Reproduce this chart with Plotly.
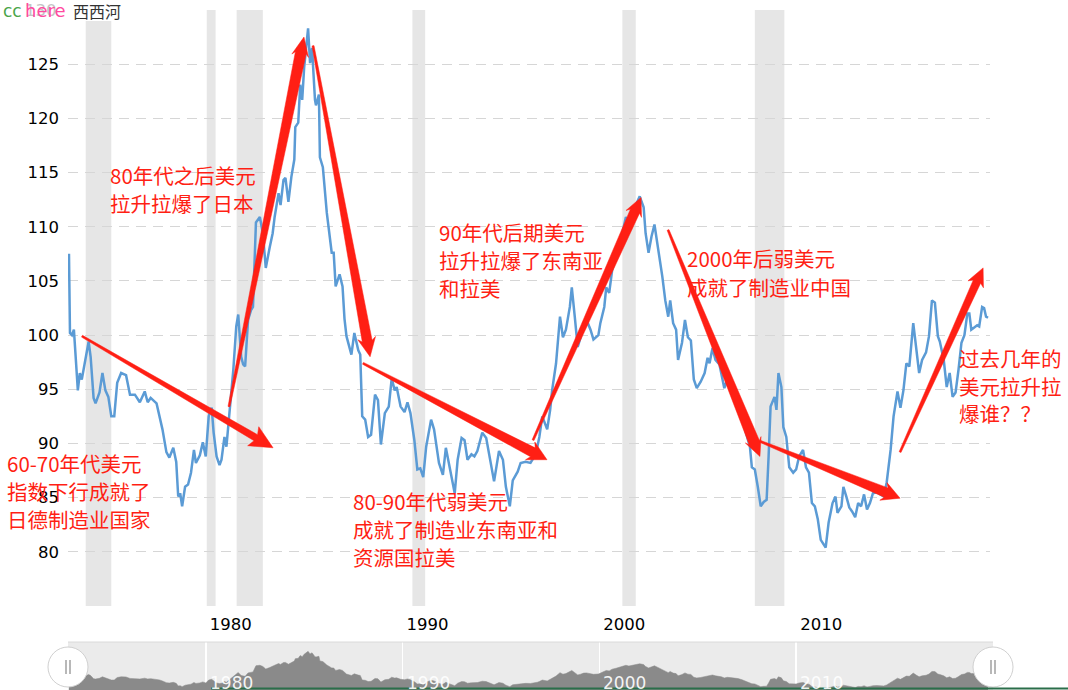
import math
import plotly.graph_objects as go

# ---------------- data ----------------
year_pts = [
    1973.05, 1973.10, 1973.20, 1973.30, 1973.50, 1973.60, 1973.70, 1973.90, 1974.05, 1974.15,
    1974.30, 1974.40, 1974.60, 1974.75, 1974.90, 1975.05, 1975.20, 1975.35, 1975.50, 1975.70,
    1975.95, 1976.15, 1976.40, 1976.65, 1976.90, 1977.05, 1977.20, 1977.50, 1977.65, 1977.80,
    1978.00, 1978.15, 1978.35, 1978.50, 1978.60, 1978.70, 1978.80, 1978.95, 1979.10, 1979.25,
    1979.40, 1979.50, 1979.70, 1979.85, 1980.00, 1980.15, 1980.30, 1980.40, 1980.55, 1980.70,
    1980.80, 1980.95, 1981.05, 1981.20, 1981.40, 1981.55, 1981.65, 1981.80, 1981.90, 1982.00,
    1982.15, 1982.30, 1982.40, 1982.55, 1982.75, 1982.90, 1983.05, 1983.25, 1983.40, 1983.50,
    1983.70, 1983.80, 1983.95, 1984.05, 1984.20, 1984.35, 1984.50, 1984.55, 1984.70, 1984.80,
    1984.90, 1985.00, 1985.10, 1985.20, 1985.30, 1985.40, 1985.55, 1985.60, 1985.75, 1985.80,
    1985.95, 1986.15, 1986.40, 1986.50, 1986.60, 1986.80, 1986.95, 1987.05, 1987.15, 1987.40,
    1987.55, 1987.75, 1987.85, 1987.95, 1988.10, 1988.25, 1988.40, 1988.60, 1988.75, 1988.90,
    1989.10, 1989.30, 1989.45, 1989.60, 1989.70, 1989.90, 1990.10, 1990.25, 1990.40, 1990.60,
    1990.75, 1990.90, 1991.05, 1991.20, 1991.45, 1991.60, 1991.85, 1992.05, 1992.20, 1992.40,
    1992.65, 1992.80, 1993.00, 1993.15, 1993.30, 1993.50, 1993.65, 1993.80, 1994.05, 1994.25,
    1994.40, 1994.65, 1994.90, 1995.10, 1995.25, 1995.45, 1995.60, 1995.85, 1996.00, 1996.25,
    1996.50, 1996.70, 1996.85, 1996.95, 1997.10, 1997.35, 1997.50, 1997.60, 1997.80, 1998.00,
    1998.15, 1998.30, 1998.50, 1998.60, 1998.75, 1998.90, 1999.05, 1999.20, 1999.35, 1999.55,
    1999.70, 1999.95, 2000.05, 2000.25, 2000.35, 2000.50, 2000.65, 2000.85, 2001.00, 2001.20,
    2001.35, 2001.50, 2001.70, 2001.90, 2002.05, 2002.25, 2002.35, 2002.50, 2002.65, 2002.80,
    2002.95, 2003.05, 2003.20, 2003.35, 2003.50, 2003.60, 2003.75, 2003.90, 2004.00, 2004.20,
    2004.35, 2004.50, 2004.65, 2004.80, 2004.95, 2005.15, 2005.35, 2005.50, 2005.60, 2005.75,
    2005.90, 2006.10, 2006.20, 2006.35, 2006.50, 2006.75, 2006.90, 2007.05, 2007.25, 2007.40,
    2007.65, 2007.75, 2007.90, 2008.05, 2008.20, 2008.35, 2008.50, 2008.60, 2008.70, 2008.90,
    2009.00, 2009.10, 2009.25, 2009.35, 2009.50, 2009.65, 2009.85, 2010.00, 2010.15, 2010.35,
    2010.50, 2010.65, 2010.80, 2010.95, 2011.10, 2011.25, 2011.50, 2011.65, 2011.85, 2012.00,
    2012.10, 2012.30, 2012.40, 2012.55, 2012.70, 2012.85, 2013.00, 2013.15, 2013.30, 2013.45,
    2013.60, 2013.75, 2013.90, 2014.10, 2014.45, 2014.60, 2014.80, 2014.95, 2015.15, 2015.30,
    2015.45, 2015.60, 2015.75, 2015.95, 2016.10, 2016.25, 2016.40, 2016.60, 2016.75, 2016.90,
    2017.05, 2017.20, 2017.30, 2017.50, 2017.65, 2017.80, 2017.95, 2018.10, 2018.25, 2018.40,
    2018.55, 2018.70, 2018.80, 2018.90, 2019.05, 2019.20, 2019.30, 2019.45, 2019.55, 2019.65,
    2019.75,
]
dollar_idx = [
    107.5, 100.2, 100.0, 100.5, 94.9, 96.5, 95.9, 97.7, 99.4, 98.0,
    94.2, 93.7, 94.7, 96.5, 94.9, 94.3, 92.5, 92.5, 95.6, 96.5,
    96.3, 94.5, 94.5, 93.8, 94.8, 93.8, 94.2, 93.7, 92.6, 91.3,
    89.2, 88.7, 89.6, 88.3, 85.1, 85.4, 84.2, 86.0, 86.2, 87.3,
    89.4, 88.2, 88.9, 90.1, 88.8, 92.5, 93.3, 91.0, 88.8, 88.0,
    88.5, 90.6, 89.7, 92.8, 96.8, 100.8, 101.9, 98.0, 97.3, 97.1,
    101.4, 102.3, 102.6, 110.4, 110.9, 109.4, 106.2, 108.1, 109.4, 110.9,
    113.1, 112.0, 114.3, 114.5, 112.3, 114.6, 116.2, 119.2, 119.6, 123.1,
    121.7, 124.7, 126.3, 128.3, 125.1, 126.5, 121.7, 121.2, 122.2, 116.4,
    115.5, 111.3, 107.6, 107.6, 104.5, 105.6, 104.5, 101.5, 99.9, 98.2,
    100.2, 98.6, 98.2, 92.5, 92.2, 90.6, 90.8, 94.5, 94.0, 89.9,
    92.8, 93.4, 96.0, 94.9, 95.2, 93.4, 92.9, 93.8, 92.8, 90.3,
    87.6, 87.7, 86.9, 89.7, 92.2, 91.3, 88.2, 87.1, 89.6, 87.6,
    85.4, 88.5, 90.5, 90.3, 88.5, 89.0, 88.8, 89.3, 91.0, 90.5,
    89.1, 86.5, 89.3, 88.5, 86.0, 84.2, 86.6, 87.4, 88.2, 88.3,
    88.2, 88.8, 89.7, 90.6, 92.5, 91.3, 93.1, 94.9, 97.4, 101.7,
    99.8, 100.5, 102.6, 104.4, 101.7, 98.9, 99.8, 101.1, 101.4, 100.5,
    99.6, 100.0, 101.1, 102.6, 104.4, 103.9, 106.0, 107.2, 108.1, 109.7,
    110.9, 110.0, 111.3, 112.2, 112.8, 111.8, 109.4, 107.6, 109.1, 110.2,
    108.5, 107.2, 105.4, 103.2, 101.7, 103.2, 101.1, 100.5, 97.7, 99.3,
    101.4, 99.8, 99.5, 95.9, 95.1, 95.7, 96.5, 97.9, 97.4, 98.8,
    97.7, 97.3, 96.5, 95.1, 95.9, 95.2, 94.9, 94.3, 92.8, 91.3,
    89.7, 87.8, 87.6, 86.0, 84.2, 84.6, 84.8, 88.8, 93.4, 94.3,
    93.1, 96.5, 95.2, 91.5, 90.6, 87.8, 87.3, 87.6, 88.8, 89.4,
    87.8, 87.3, 84.5, 84.2, 83.0, 81.1, 80.4, 82.7, 84.5, 85.1,
    83.6, 84.2, 86.0, 85.1, 84.1, 83.7, 83.2, 84.5, 84.2, 85.3,
    83.9, 84.5, 85.4, 85.5, 85.1, 86.4, 89.4, 92.5, 94.8, 93.3,
    94.9, 97.4, 97.1, 101.1, 98.6, 96.5, 97.7, 98.4, 99.9, 103.2,
    103.0, 99.9, 99.4, 97.7, 95.2, 96.5, 94.3, 94.7, 96.8, 99.3,
    100.0, 102.0, 102.0, 100.5, 100.7, 100.9, 100.8, 102.6, 102.5, 101.7,
    101.6,
]

recession_start = [1973.90, 1980.05, 1981.57, 1990.50, 2001.17, 2007.90]
recession_end = [1975.20, 1980.50, 1982.90, 1991.15, 2001.85, 2009.40]

y_ticks = [75, 80, 85, 90, 95, 100, 105, 110, 115, 120, 125, 130]
y_labels = ["", "80", "85", "90", "95", "100", "105", "110", "115", "120", "125", ""]
x_ticks = [1980, 1990, 2000, 2010]
x_labels = ["1980", "1990", "2000", "2010"]

# hand-drawn red arrows (start / tip in chart units)
arrow_from = [(1973.71, 99.9), (1981.18, 93.4), (1985.45, 126.7), (1987.99, 97.4),
              (1996.63, 90.3), (2003.49, 109.7), (2008.16, 90.2), (2015.28, 89.2)]
arrow_to = [(1983.42, 89.6), (1984.99, 127.5), (1988.35, 98.0), (1997.34, 88.5),
            (2002.12, 112.7), (2008.16, 88.8), (2015.28, 84.95), (2019.50, 106.2)]

note_lines = [
    ["60-70年代美元", "指数下行成就了", "日德制造业国家"],
    ["80年代之后美元", "拉升拉爆了日本"],
    ["90年代后期美元", "拉升拉爆了东南亚", "和拉美"],
    ["2000年后弱美元", "成就了制造业中国"],
    ["80-90年代弱美元", "成就了制造业东南亚和", "资源国拉美"],
    ["过去几年的", "美元拉升拉", "爆谁？？"],
]

# ---------------- geometry ----------------
W, H = 1068, 690
ML, MR, MT, MB = 68, 78, 10, 0
X0, X1 = 1973.0, 2019.85
Y0, Y1 = 75, 130
PW = W - ML - MR
PH = H - MT - MB
MAIN_BOTTOM = 606   # px
SLIDER_TOP = 642    # px


def paper_x(px):
    return (px - ML) / PW


def paper_y(py):
    return (H - MB - py) / PH


def xpx(yr):
    return ML + (yr - X0) / (X1 - X0) * PW


def ypx(v):
    return MAIN_BOTTOM - (v - Y0) / (Y1 - Y0) * (MAIN_BOTTOM - MT)


RED = "#ff1f14"

fig = go.Figure()
fig.add_trace(go.Scatter(
    x=year_pts, y=dollar_idx, mode="lines",
    line=dict(color="#5b9bd5", width=2.5),
    hoverinfo="skip", showlegend=False, xaxis="x", yaxis="y"))
fig.add_trace(go.Scatter(
    x=year_pts, y=dollar_idx, mode="lines", fill="tozeroy",
    line=dict(color="#8a8a8a", width=0.5), fillcolor="#8a8a8a",
    hoverinfo="skip", showlegend=False, xaxis="x2", yaxis="y2"))

shapes = []
# recession bands
for a, b in zip(recession_start, recession_end):
    shapes.append(dict(type="rect", xref="x", yref="y", x0=a, x1=b, y0=Y0, y1=Y1,
                       fillcolor="#e6e6e6", line=dict(width=0), layer="below"))
# slider background
shapes.append(dict(type="rect", xref="paper", yref="paper", x0=0, x1=paper_x(993),
                   y0=0, y1=paper_y(SLIDER_TOP), fillcolor="#ebebeb",
                   line=dict(width=0), layer="below"))
shapes.append(dict(type="line", xref="paper", yref="paper", x0=0, x1=paper_x(993),
                   y0=paper_y(SLIDER_TOP), y1=paper_y(SLIDER_TOP),
                   line=dict(color="#dadada", width=1), layer="above"))


def arrow_path(p0, p1, tail_w, neck_w, head_w, head_len):
    x0, y0 = xpx(p0[0]), ypx(p0[1])
    x1, y1 = xpx(p1[0]), ypx(p1[1])
    dx, dy = x1 - x0, y1 - y0
    L = math.hypot(dx, dy)
    ux, uy = dx / L, dy / L
    nx, ny = -uy, ux
    bx, by = x1 - ux * head_len, y1 - uy * head_len
    pts = [
        (x0 + nx * tail_w / 2, y0 + ny * tail_w / 2),
        (bx + nx * neck_w / 2, by + ny * neck_w / 2),
        (bx - ux * 3 + nx * head_w / 2, by - uy * 3 + ny * head_w / 2),
        (x1, y1),
        (bx - ux * 3 - nx * head_w / 2, by - uy * 3 - ny * head_w / 2),
        (bx - nx * neck_w / 2, by - ny * neck_w / 2),
        (x0 - nx * tail_w / 2, y0 - ny * tail_w / 2),
    ]
    return "M " + " L ".join(f"{paper_x(px):.5f},{paper_y(py):.5f}" for px, py in pts) + " Z"


arrow_style = [(2, 7, 22, 20), (2, 11, 17, 16), (2, 10, 18, 16), (2, 10, 20, 16),
               (2, 10, 17, 15), (2, 11, 17, 15), (2, 10, 19, 15), (2, 8, 17, 15)]
for p0, p1, st in zip(arrow_from, arrow_to, arrow_style):
    shapes.append(dict(type="path", xref="paper", yref="paper",
                       path=arrow_path(p0, p1, *st), fillcolor=RED,
                       line=dict(color=RED, width=0.5), layer="above"))

# white patch behind the watermark
shapes.append(dict(type="rect", xref="paper", yref="paper", x0=paper_x(72), x1=paper_x(122),
                   y0=paper_y(21), y1=paper_y(0), fillcolor="white",
                   line=dict(width=0), layer="above"))

# slider handles
for cx in (68, 993):
    shapes.append(dict(type="circle", xref="paper", yref="paper",
                       x0=paper_x(cx - 20), x1=paper_x(cx + 20),
                       y0=paper_y(687), y1=paper_y(647), fillcolor="white",
                       line=dict(color="#d0d0d0", width=1), layer="above"))
    for dxp in (-2, 2):
        shapes.append(dict(type="line", xref="paper", yref="paper",
                           x0=paper_x(cx + dxp), x1=paper_x(cx + dxp),
                           y0=paper_y(674), y1=paper_y(660),
                           line=dict(color="#a0a0a0", width=1.5), layer="above"))
# bottom green border line
shapes.append(dict(type="line", xref="paper", yref="paper", x0=paper_x(211), x1=paper_x(1068),
                   y0=paper_y(688.5), y1=paper_y(688.5),
                   line=dict(color="#2b6e4a", width=2), layer="above"))

annotations = []
note_pos = [(5, [463, 491, 519]), (108, [175, 203]), (437, [232, 260, 288]),
            (685, [258, 287]), (351, [501, 529, 557]), (957, [358, 386, 413])]
for lines, (lx, ys) in zip(note_lines, note_pos):
    for txt, ly in zip(lines, ys):
        annotations.append(dict(text=txt, xref="paper", yref="paper", x=paper_x(lx), y=paper_y(ly),
                                xanchor="left", yanchor="middle", showarrow=False,
                                font=dict(family="Noto Sans CJK SC", size=20.5, color=RED)))

# watermark
annotations.append(dict(text="130", xref="paper", yref="paper", x=paper_x(59), y=paper_y(11),
                        xanchor="right", yanchor="middle", showarrow=False,
                        font=dict(family="DejaVu Sans", size=16.5, color="#c4c4c4")))
annotations.append(dict(text="cc", xref="paper", yref="paper", x=paper_x(1), y=paper_y(11),
                        xanchor="left", yanchor="middle", showarrow=False,
                        font=dict(family="DejaVu Sans", size=17, color="#4aa54a")))
annotations.append(dict(text="here", xref="paper", yref="paper", x=paper_x(23), y=paper_y(11),
                        xanchor="left", yanchor="middle", showarrow=False,
                        font=dict(family="DejaVu Sans", size=18, color="#ff4aa0")))
annotations.append(dict(text="西西河", xref="paper", yref="paper", x=paper_x(71), y=paper_y(11),
                        xanchor="left", yanchor="middle", showarrow=False,
                        font=dict(family="Noto Sans CJK SC", size=16, color="#333333")))

# slider year labels
for xv, lab in zip(x_ticks, x_labels):
    annotations.append(dict(text=lab, xref="x2", yref="paper", x=xv, y=paper_y(671),
                            xanchor="left", yanchor="top", xshift=2, showarrow=False,
                            font=dict(family="DejaVu Sans", size=17, color="rgba(255,255,255,0.92)")))

fig.update_layout(
    width=W, height=H, autosize=False,
    margin=dict(l=ML, r=MR, t=MT, b=MB, pad=0),
    paper_bgcolor="white", plot_bgcolor="rgba(0,0,0,0)",
    font=dict(family="DejaVu Sans", color="black"),
    showlegend=False, hovermode=False,
    xaxis=dict(domain=[0, 1], range=[X0, X1], anchor="y",
               tickmode="array", tickvals=x_ticks, ticktext=x_labels,
               showgrid=False, zeroline=False, showline=False, ticks="",
               tickfont=dict(size=16.5, color="black"),
               ticklabelshift=25, ticklabelstandoff=6),
    yaxis=dict(domain=[paper_y(MAIN_BOTTOM), 1], range=[Y0, Y1], anchor="x",
               tickmode="array", tickvals=y_ticks, ticktext=y_labels,
               showgrid=True, gridcolor="#d6d6d6", gridwidth=1, griddash="10px,7px",
               zeroline=False, showline=False, ticks="",
               tickfont=dict(size=16.5, color="black"), ticklabelstandoff=8),
    xaxis2=dict(domain=[0, 1], range=[X0, X1], anchor="y2",
                tickmode="array", tickvals=x_ticks, showticklabels=False,
                showgrid=True, gridcolor="white", gridwidth=1.5,
                zeroline=False, showline=False, ticks=""),
    yaxis2=dict(domain=[0, paper_y(SLIDER_TOP)], range=[80, 140], anchor="x2",
                showgrid=False, zeroline=False, showline=False, showticklabels=False, ticks=""),
    shapes=shapes, annotations=annotations,
)

fig.write_html("out.html", config={"displayModeBar": False, "staticPlot": True})
